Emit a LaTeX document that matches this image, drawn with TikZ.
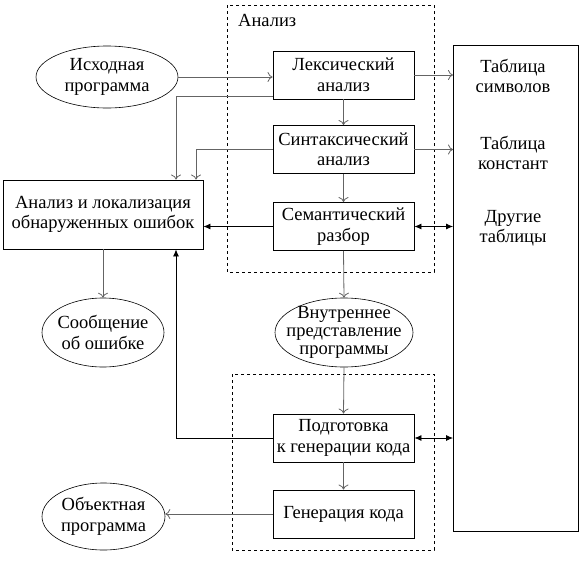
\documentclass[tikz,border=0pt]{standalone}
\usepackage{fontspec}
\setmainfont{Liberation Serif}
\usetikzlibrary{shapes.geometric,arrows.meta}
\definecolor{linegray}{RGB}{100,100,100}
\begin{document}
\begin{tikzpicture}[x=1pt,y=-1pt,
  every node/.style={font=\fontsize{18.5}{20.5}\selectfont},
  box/.style={draw,line width=0.9pt,minimum width=141pt,minimum height=48pt,align=center,inner sep=0pt},
  oval/.style={draw,ellipse,line width=0.6pt,inner sep=0pt},
  txt/.style={align=center,inner sep=0pt},
  ga/.style={linegray,line width=0.8pt,-{To[length=5pt,width=10pt]}},
  ba/.style={black,line width=0.8pt,-{Latex[length=7pt,width=6pt]}},
  dba/.style={black,line width=0.8pt,{Latex[length=7pt,width=6pt]}-{Latex[length=7pt,width=6pt]}},
  dashbox/.style={draw,dashed,line width=0.8pt}]
\useasboundingbox (0,0) rectangle (584,560);
% dashed groups
\draw[dashbox] (227,5) rectangle (434,272);
\node[txt,anchor=west] (lbl) at (238,20) {Анализ};
\draw[dashbox] (232,374) rectangle (434,550);
% boxes
\node[box] (lex) at (343.5,75) {Лексический\\анализ};
\node[box] (syn) at (343.5,149.5) {Синтаксический\\анализ};
\node[box] (sem) at (343.5,226.5) {Семантический\\разбор};
\node[box] (prep) at (343.5,438) {Подготовка\\к генерации кода};
\node[box] (gen) at (343.5,514) {Генерация кода};
\node[box,minimum width=200pt,minimum height=69pt] (err) at (103,214.5) {Анализ и локализация\\обнаруженных ошибок};
\node[draw,line width=0.9pt,minimum width=125pt,minimum height=486pt,inner sep=0pt] (tab) at (516,288) {};
\node[txt] (t1) at (513,76) {Таблица\\символов};
\node[txt] (t2) at (513,153) {Таблица\\констант};
\node[txt] (t3) at (513,228) {Другие\\таблицы};
% ellipses
\node[oval,minimum width=142pt,minimum height=62pt] (src) at (107,77) {};
\node[txt] (srct) at (src) {Исходная\\программа};
\node[oval,minimum width=122pt,minimum height=69pt] (msg) at (103,332.5) {};
\node[txt] (msgt) at (msg) {Сообщение\\об ошибке};
\node[oval,minimum width=123pt,minimum height=67pt] (obj) at (103.5,516.5) {};
\node[txt] (objt) at (obj) {Объектная\\программа};
\node[oval,minimum width=138pt,minimum height=69pt] (irep) at (344,332.5) {};
\node[txt,font=\fontsize{18.5}{18}\selectfont] (irept) at (irep) {Внутреннее\\представление\\программы};
% connectors
\draw[ga] (src.east) -- (src.east -| lex.west);
\draw[ga] ([yshift=3pt]lex.south west) -| ([xshift=73pt]err.north);
\draw[ga] (syn.west) -| ([xshift=93pt]err.north);
\draw[ba] (sem.west) -- (sem.west -| err.east);
\draw[ga] (err.south) -- (msg.north);
\draw[ba] (prep.west) -| ([xshift=73pt]err.south);
\draw[ga] (gen.west) -- (gen.west -| obj.east);
\draw[ga] (lex.south) -- (syn.north);
\draw[ga] (syn.south) -- (sem.north);
\draw[ga] (sem.south) -- (irep.north);
\draw[ga] (irep.south) -- (prep.north);
\draw[ga] (prep.south) -- (gen.north);
\draw[ga] (lex.east) -- (lex.east -| tab.west);
\draw[ga] (syn.east) -- (syn.east -| tab.west);
\draw[dba] (sem.east) -- (sem.east -| tab.west);
\draw[dba] (prep.east) -- (prep.east -| tab.west);
\end{tikzpicture}
\end{document}
